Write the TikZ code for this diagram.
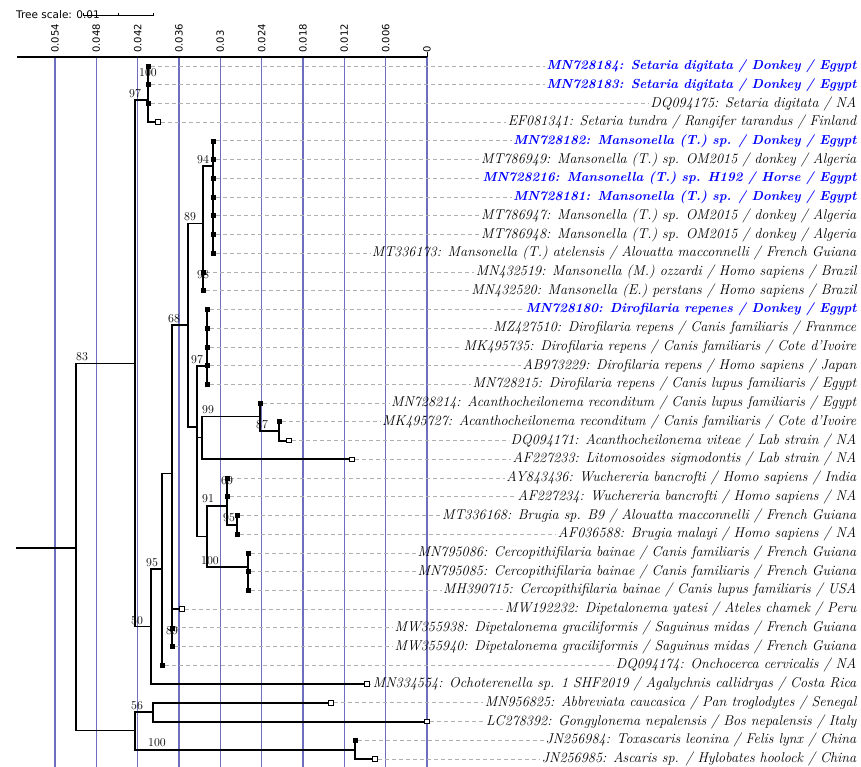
\documentclass[tikz,border=0pt]{standalone}
\usepackage{fontspec}
\newfontfamily\axisfont{DejaVu Sans}
\definecolor{gridc}{RGB}{110,110,190}
\definecolor{dashc}{RGB}{175,175,175}
\definecolor{hlblue}{RGB}{0,0,255}
\newcommand{\myleaf}[4]{%
  \pgfmathsetmacro\yy{66+(#1-1)*18.73}%
  \coordinate (l#1) at (#2,\yy);%
  \node[leaflab,#3] (t#1) at (858,\yy) {#4};%
  \draw[dashln] ([xshift=3pt]l#1) -- (t#1.west);%
}
\begin{document}
\begin{tikzpicture}[x=1pt,y=-1pt,
  br/.style={line width=1.9pt, line cap=rect},
  leaflab/.style={anchor=east, inner sep=1.5pt, font=\fontsize{14.2}{15}\selectfont\itshape},
  hl/.style={text=hlblue, font=\fontsize{13.1}{15}\selectfont\bfseries\itshape},
  dashln/.style={draw=dashc, line width=0.9pt, dash pattern=on 4pt off 3pt},
  bs/.style={font=\fontsize{12}{13}\selectfont, inner sep=0pt},
  sqf/.style={draw=black, fill=black, minimum size=4pt, inner sep=0pt, line width=0.8pt, rectangle},
  sqo/.style={draw=black, fill=white, minimum size=4.5pt, inner sep=0pt, line width=1pt, rectangle},
  gridln/.style={draw=gridc, line width=1.1pt},
  axlab/.style={font=\axisfont\fontsize{10}{11}\selectfont, rotate=90, anchor=west, inner sep=0pt}
]
\useasboundingbox (0,0) rectangle (861,767);
\fill[white] (0,0) rectangle (861,767);
% grid and axis
\foreach \v/\xx [count=\k] in {0.054/55,0.048/96.3,0.042/137.7,0.036/179,0.03/220.3,0.024/261.7,0.018/303,0.012/344.3,0.006/385.7,0/427}{
  \draw[gridln] (\xx,57) -- (\xx,767);
  \node[axlab] (ax\k) at (\xx,53) {\v};
}
\draw[line width=2.6pt] (17,57) -- (427,57);
\draw[line width=1pt] (427,52.5) -- (427,57);
% tree scale
\node[font=\axisfont\fontsize{10.5}{11}\selectfont, anchor=west, inner sep=0pt] (ts) at (16,15) {Tree scale: 0.01};
\coordinate (sa) at (83,15); \coordinate (sb) at (153,15);
\draw[line width=0.7pt] (sa) -- (sb);
\draw[line width=0.7pt] (83,13.5) -- (83,16.5) (118,13.5) -- (118,16.5) (153,13.5) -- (153,16.5);
% leaves and labels
\myleaf{1}{148}{hl}{MN728184: Setaria digitata / Donkey / Egypt}
\myleaf{2}{148}{hl}{MN728183: Setaria digitata / Donkey / Egypt}
\myleaf{3}{148}{}{DQ094175: Setaria digitata / NA}
\myleaf{4}{158}{}{EF081341: Setaria tundra / Rangifer tarandus / Finland}
\myleaf{5}{213}{hl}{MN728182: Mansonella (T.) sp. / Donkey / Egypt}
\myleaf{6}{213}{}{MT786949: Mansonella (T.) sp. OM2015 / donkey / Algeria}
\myleaf{7}{213}{hl}{MN728216: Mansonella (T.) sp. H192 / Horse / Egypt}
\myleaf{8}{213}{hl}{MN728181: Mansonella (T.) sp. / Donkey / Egypt}
\myleaf{9}{213}{}{MT786947: Mansonella (T.) sp. OM2015 / donkey / Algeria}
\myleaf{10}{213}{}{MT786948: Mansonella (T.) sp. OM2015 / donkey / Algeria}
\myleaf{11}{213}{}{MT336173: Mansonella (T.) atelensis / Alouatta macconnelli / French Guiana}
\myleaf{12}{203}{}{MN432519: Mansonella (M.) ozzardi / Homo sapiens / Brazil}
\myleaf{13}{203}{}{MN432520: Mansonella (E.) perstans / Homo sapiens / Brazil}
\myleaf{14}{207}{hl}{MN728180: Dirofilaria repenes / Donkey / Egypt}
\myleaf{15}{207}{}{MZ427510: Dirofilaria repens / Canis familiaris / Franmce}
\myleaf{16}{207}{}{MK495735: Dirofilaria repens / Canis familiaris / Cote d'Ivoire}
\myleaf{17}{207}{}{AB973229: Dirofilaria repens / Homo sapiens / Japan}
\myleaf{18}{207}{}{MN728215: Dirofilaria repens / Canis lupus familiaris / Egypt}
\myleaf{19}{260}{}{MN728214: Acanthocheilonema reconditum / Canis lupus familiaris / Egypt}
\myleaf{20}{279}{}{MK495727: Acanthocheilonema reconditum / Canis familiaris / Cote d'Ivoire}
\myleaf{21}{289}{}{DQ094171: Acanthocheilonema viteae / Lab strain / NA}
\myleaf{22}{352}{}{AF227233: Litomosoides sigmodontis / Lab strain / NA}
\myleaf{23}{227}{}{AY843436: Wuchereria bancrofti / Homo sapiens / India}
\myleaf{24}{227}{}{AF227234: Wuchereria bancrofti / Homo sapiens / NA}
\myleaf{25}{237}{}{MT336168: Brugia sp. B9 / Alouatta macconnelli / French Guiana}
\myleaf{26}{237}{}{AF036588: Brugia malayi / Homo sapiens / NA}
\myleaf{27}{248}{}{MN795086: Cercopithifilaria bainae / Canis familiaris / French Guiana}
\myleaf{28}{248}{}{MN795085: Cercopithifilaria bainae / Canis familiaris / French Guiana}
\myleaf{29}{248}{}{MH390715: Cercopithifilaria bainae / Canis lupus familiaris / USA}
\myleaf{30}{182}{}{MW192232: Dipetalonema yatesi / Ateles chamek / Peru}
\myleaf{31}{172}{}{MW355938: Dipetalonema graciliformis / Saguinus midas / French Guiana}
\myleaf{32}{172}{}{MW355940: Dipetalonema graciliformis / Saguinus midas / French Guiana}
\myleaf{33}{162}{}{DQ094174: Onchocerca cervicalis / NA}
\myleaf{34}{367}{}{MN334554: Ochoterenella sp. 1 SHF2019 / Agalychnis callidryas / Costa Rica}
\myleaf{35}{331}{}{MN956825: Abbreviata caucasica / Pan troglodytes / Senegal}
\myleaf{36}{427}{}{LC278392: Gongylonema nepalensis / Bos nepalensis / Italy}
\myleaf{37}{355}{}{JN256984: Toxascaris leonina / Felis lynx / China}
\myleaf{38}{375}{}{JN256985: Ascaris sp. / Hylobates hoolock / China}
% internal nodes
\coordinate (rt) at (17,548);
\coordinate (R) at (76,548);
\coordinate (U) at (135,363.5);
\coordinate (L) at (135,730.5);
\coordinate (S) at (148,100);
\coordinate (N50) at (151,626.5);
\coordinate (N95) at (162,569);
\coordinate (Q) at (172,473.5);
\coordinate (Dp) at (172,623);
\coordinate (N89) at (172,637.3);
\coordinate (N68) at (188,325);
\coordinate (M) at (203,223.5);
\coordinate (N94) at (213,166);
\coordinate (N98) at (203,281.4);
\coordinate (NR) at (197,427);
\coordinate (D97) at (207,366);
\coordinate (W) at (197,487);
\coordinate (X) at (202,437.5);
\coordinate (N99) at (260,416.5);
\coordinate (N87) at (279,431.25);
\coordinate (N91) at (207,536.5);
\coordinate (Y) at (227,506);
\coordinate (N69) at (227,487.5);
\coordinate (N95b) at (237,525);
\coordinate (C100) at (248,567);
\coordinate (N56) at (153,712.2);
\coordinate (B100) at (355,749.6);
% tree edges
\draw[br] (rt) -- (R);
\foreach \p/\c in {R/U,R/L,U/S,U/N50,S/l1,S/l2,S/l3,S/l4,N50/N95,N50/l34,N95/Q,N95/l33,
  Q/N68,Q/Dp,Dp/l30,Dp/N89,N89/l31,N89/l32,N68/M,N68/NR,M/N94,M/N98,N98/l12,N98/l13,
  N94/l5,N94/l6,N94/l7,N94/l8,N94/l9,N94/l10,N94/l11,NR/D97,NR/W,
  D97/l14,D97/l15,D97/l16,D97/l17,D97/l18,W/X,W/N91,X/N99,X/l22,N99/l19,N99/N87,N87/l20,N87/l21,
  N91/Y,N91/C100,Y/N69,Y/N95b,N69/l23,N69/l24,N95b/l25,N95b/l26,C100/l27,C100/l28,C100/l29,
  L/N56,L/B100,N56/l35,N56/l36,B100/l37,B100/l38}{
  \draw[br] (\p) |- (\c);
}
% leaf markers
\foreach \i in {1,2,3,5,6,7,8,9,10,11,12,13,14,15,16,17,18,19,20,23,24,25,26,27,28,29,31,32,33,37}{
  \node[sqf] (s\i) at (l\i) {};
}
\foreach \i in {4,21,22,30,34,35,36,38}{
  \node[sqo] (s\i) at (l\i) {};
}
% bootstrap values
\node[bs] (b1) at (148,73) {100};
\node[bs] (b2) at (135,94) {97};
\node[bs] (b3) at (203,160) {94};
\node[bs] (b4) at (190,217) {89};
\node[bs] (b5) at (203,275) {98};
\node[bs] (b6) at (174,319) {68};
\node[bs] (b7) at (197,360) {97};
\node[bs] (b8) at (208,410) {99};
\node[bs] (b9) at (262,425) {87};
\node[bs] (b10) at (227,481) {69};
\node[bs] (b11) at (208,499) {91};
\node[bs] (b12) at (229,518) {95};
\node[bs] (b13) at (210,561) {100};
\node[bs] (b14) at (152,563) {95};
\node[bs] (b15) at (137,621) {50};
\node[bs] (b16) at (172,631) {89};
\node[bs] (b17) at (137,706) {56};
\node[bs] (b18) at (157,743) {100};
\node[bs] (b19) at (82,357) {83};
\end{tikzpicture}
\end{document}
